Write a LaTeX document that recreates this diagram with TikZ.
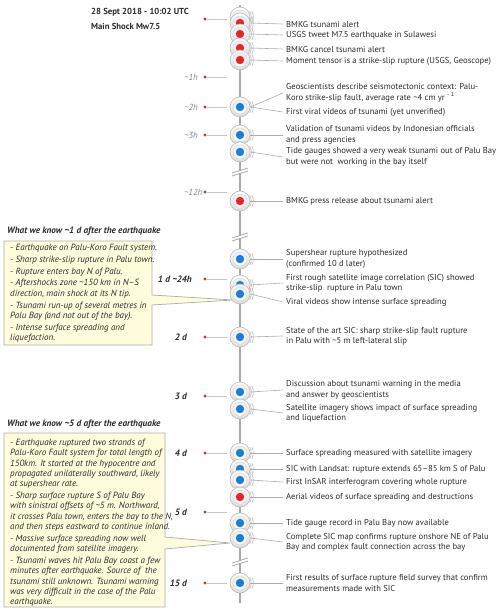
\documentclass[tikz,border=0pt]{standalone}
\usepackage{fontspec}
\setmainfont{PT Sans}
\usetikzlibrary{calc}
\definecolor{boxfill}{HTML}{FFFCDC}
\definecolor{evred}{HTML}{E8232A}
\definecolor{evblue}{HTML}{1C7ED6}
\definecolor{txt}{HTML}{2B2B2B}
\definecolor{tlc}{HTML}{A8A8A8}
\newcommand\tld{\textasciitilde}
\newcommand\evt[3]{%
  \node[evc=#2] (#1) at (240,#3) {};
  \draw[wave] (#1.center) ++(-32:11.3) arc[start angle=-32, end angle=32, radius=11.3];
  \draw[wave] (#1.center) ++(-26:13.3) arc[start angle=-26, end angle=26, radius=13.3];
}
\newcommand\brk[2]{%
  \coordinate (#1a) at (232,#2+3);
  \coordinate (#1b) at (248,#2-2);
  \coordinate (#1c) at (248,#2+1);
  \coordinate (#1d) at (232,#2+6);
  \fill[white] (#1a) -- (#1b) -- (#1c) -- (#1d) -- cycle;
  \draw[brkline] (#1a) -- (#1b);
  \draw[brkline] (#1d) -- (#1c);
}
\newcommand\tmark[2]{% name, y
  \node[tdot] (#1) at (205,#2) {};
  \coordinate (#1e) at (227,#2);
  \draw[tline] (#1) -- (#1e);
}
\begin{document}
\begin{tikzpicture}[x=1pt,y=-1pt,
  font=\fontsize{8.6}{10.3}\selectfont,
  evc/.style={circle, minimum size=20pt, inner sep=0pt, draw=gray!55, line width=0.6pt,
    top color=white, bottom color=gray!28,
    path picture={
      \shade[top color=gray!14, bottom color=white, draw=gray!35, line width=0.4pt]
        (path picture bounding box.center) circle (7pt);
      \fill[#1] (path picture bounding box.center) circle (4.2pt);
    }},
  wave/.style={draw=gray!55, line width=0.6pt},
  brkline/.style={draw=tlc, line width=0.8pt},
  tdot/.style={circle, fill=evred, inner sep=0pt, minimum size=3.4pt},
  tline/.style={draw=gray!45, line width=0.6pt},
  conn/.style={draw=gray!65, line width=0.6pt},
  etxt/.style={anchor=west, inner xsep=3pt, inner ysep=0pt, align=left, text=txt},
  hlab/.style={anchor=east, inner sep=0pt, font=\fontsize{8.8}{10.3}\selectfont\itshape, text=gray},
  dlab/.style={anchor=east, inner sep=0pt, font=\fontsize{9.2}{10.3}\selectfont\bfseries\itshape, text=txt},
  hdr/.style={anchor=west, inner sep=0pt, font=\fontsize{9.2}{10.3}\selectfont\bfseries\itshape, text=txt},
  boxtxt/.style={anchor=north west, inner sep=0pt, align=left, text=txt,
    font=\fontsize{9.0}{10.3}\selectfont\itshape},
  ttl/.style={anchor=west, inner sep=0pt, font=\fontsize{8.7}{10}\selectfont\bfseries, text=txt},
  calloutbox/.style={fill=boxfill, draw=gray!65, line width=0.7pt}
]
\useasboundingbox (0,0) rectangle (500,612);

% title
\node[ttl] (title1) at (91,12) {28 Sept 2018 - 10:02 UTC};
\node[ttl] (title2) at (91,26) {Main Shock Mw7.5};

% timeline
\coordinate (tltop) at (240,5);
\coordinate (tlbot) at (240,603);
\draw[tlc, line width=1.6pt] (tltop) -- (tlbot);
\brk{b1}{170}
\brk{b2}{235}
\brk{b3}{560}

% time marks
\tmark{m0}{19}
\tmark{m1}{77}
\node[hlab] (l1) at (198,77) {\tld 1h};
\tmark{m2}{107}
\node[hlab] (l2) at (198,107) {\tld 2h};
\tmark{m3}{135}
\node[hlab] (l3) at (198,135) {\tld 3h};
\tmark{m4}{192}
\node[hlab] (l4) at (202.5,192) {\tld 12h};
\tmark{m5}{279}
\node[dlab] (l5) at (192,279) {1 d \tld24h};
\tmark{m6}{337}
\node[dlab] (l6) at (187,337) {2 d};
\tmark{m7}{396}
\node[dlab] (l7) at (187,396) {3 d};
\tmark{m8}{453}
\node[dlab] (l8) at (187,453) {4 d};
\tmark{m9}{512}
\node[dlab] (l9) at (187,512) {5 d};
\tmark{m10}{583}
\node[dlab] (l10) at (187,583) {15 d};

% callout boxes
\coordinate (c1a) at (4,241);
\coordinate (c1b) at (152,241);
\coordinate (c1c) at (152,295);
\coordinate (c1t) at (233,300);
\coordinate (c1d) at (152,305);
\coordinate (c1e) at (152,345);
\coordinate (c1f) at (4,345);
\draw[calloutbox] (c1a) -- (c1b) -- (c1c) -- (c1t) -- (c1d) -- (c1e) -- (c1f) -- cycle;
\coordinate (c2a) at (4,433);
\coordinate (c2b) at (165,433);
\coordinate (c2c) at (165,537);
\coordinate (c2t) at (230,543);
\coordinate (c2d) at (165,549);
\coordinate (c2e) at (165,607);
\coordinate (c2f) at (4,607);
\draw[calloutbox] (c2a) -- (c2b) -- (c2c) -- (c2t) -- (c2d) -- (c2e) -- (c2f) -- cycle;

\node[hdr] (h1) at (7,231) {What we know \tld1 d after the earthquake};
\node[hdr] (h2) at (7,424) {What we know \tld5 d after the earthquake};

\node[boxtxt] (bx1) at (10,244) {%
- Earthquake on Palu-Koro Fault system.\\[1.5pt]
- Sharp strike-slip rupture in Palu town.\\[1.5pt]
- Rupture enters bay N of Palu.\\[1.5pt]
- Aftershocks zone \tld150 km in N--S\\
direction, main shock at its N tip.\\[1.5pt]
- Tsunami run-up of several metres in\\
Palu Bay (and not out of the bay).\\[1.5pt]
- Intense surface spreading and\\
liquefaction.};

\node[boxtxt] (bx2) at (10,439) {%
- Earthquake ruptured two strands of\\
Palu-Koro Fault system for total length of\\
150km. It started at the hypocentre and\\
propagated unilaterally southward, likely\\
at supershear rate.\\[1.5pt]
- Sharp surface rupture S of Palu Bay\\
with sinistral offsets of \tld5 m. Northward,\\
it crosses Palu town, enters the bay to the N,\\
and then steps eastward to continue inland.\\[1.5pt]
- Massive surface spreading now well\\
documented from satellite imagery.\\[1.5pt]
- Tsunami waves hit Palu Bay coast a few\\
minutes after earthquake. Source of \ the\\
tsunami still unknown. Tsunami warning\\
was very difficult in the case of the Palu\\
earthquake.};

% events
\evt{A}{evred}{17}
\evt{B}{evred}{23}
\evt{C}{evred}{34}
\evt{D}{evred}{48}
\evt{E}{evred}{60}
\evt{F}{evblue}{107}
\evt{G}{evblue}{135}
\evt{H}{evblue}{152}
\evt{I}{evred}{201}
\evt{J}{evblue}{259}
\evt{K}{evblue}{285}
\evt{L}{evblue}{294}
\evt{M}{evblue}{337}
\evt{N}{evblue}{392}
\evt{O}{evblue}{409}
\evt{P}{evblue}{453}
\evt{Q}{evblue}{469}
\evt{R}{evblue}{480}
\evt{S}{evred}{497}
\evt{T}{evblue}{523}
\evt{U}{evblue}{538}
\evt{V}{evblue}{583}

% event texts
\node[etxt] (tB) at (283,24) {BMKG tsunami alert};
\node[etxt] (tC) at (283,35) {USGS tweet M7.5 earthquake in Sulawesi};
\node[etxt] (tD) at (283,49) {BMKG cancel tsunami alert};
\node[etxt] (tE) at (283,61) {Moment tensor is a strike-slip rupture (USGS, Geoscope)};
\node[etxt] (tF1) at (283,93) {Geoscientists describe seismotectonic context: Palu-\\Koro strike-slip fault, average rate \tld4 cm yr \textsuperscript{- 1}};
\node[etxt] (tF2) at (283,112) {First viral videos of tsunami (yet unverified)};
\node[etxt] (tG) at (283,135) {Validation of tsunami videos by Indonesian officials\\and press agencies};
\node[etxt] (tH) at (283,157) {Tide gauges showed a very weak tsunami out of Palu Bay\\but were not \ working in the bay itself};
\node[etxt] (tI) at (283,201) {BMKG press release about tsunami alert};
\node[etxt] (tJ) at (283,259) {Supershear rupture hypothesized\\(confirmed 10 d later)};
\node[etxt] (tK) at (283,283) {First rough satellite image correlation (SIC) showed\\strike-slip \ rupture in Palu town};
\node[etxt] (tL) at (283,302) {Viral videos show intense surface spreading};
\node[etxt] (tM) at (283,336) {State of the art SIC: sharp strike-slip fault rupture\\in Palu with \tld5 m left-lateral slip};
\node[etxt] (tN) at (283,390) {Discussion about tsunami warning in the media\\and answer by geoscientists};
\node[etxt] (tO) at (283,413) {Satellite imagery shows impact of surface spreading\\and liquefaction};
\node[etxt] (tP) at (283,453) {Surface spreading measured with satellite imagery};
\node[etxt] (tQ) at (283,469) {SIC with Landsat: rupture extends 65--85 km S of Palu};
\node[etxt] (tR) at (283,482) {First InSAR interferogram covering whole rupture};
\node[etxt] (tS) at (283,497) {Aerial videos of surface spreading and destructions};
\node[etxt] (tT) at (283,523) {Tide gauge record in Palu Bay now available};
\node[etxt] (tU) at (283,542) {Complete SIC map confirms rupture onshore NE of Palu\\Bay and complex fault connection across the bay};
\node[etxt] (tV) at (283,583) {First results of surface rupture field survey that confirm\\measurements made with SIC};

% connectors
\draw[conn] (B.east) -- (tB.west);
\draw[conn] (C.east) -- (tC.west);
\draw[conn] (D.east) -- (tD.west);
\draw[conn] (E.east) -- (tE.west);
\draw[conn] (F.east) -- (tF1.west);
\draw[conn] (F.east) -- (tF2.west);
\draw[conn] (G.east) -- (tG.west);
\draw[conn] (H.east) -- (tH.west);
\draw[conn] (I.east) -- (tI.west);
\draw[conn] (J.east) -- (tJ.west);
\draw[conn] (K.east) -- (tK.west);
\draw[conn] (L.east) -- (tL.west);
\draw[conn] (M.east) -- (tM.west);
\draw[conn] (N.east) -- (tN.west);
\draw[conn] (O.east) -- (tO.west);
\draw[conn] (P.east) -- (tP.west);
\draw[conn] (Q.east) -- (tQ.west);
\draw[conn] (R.east) -- (tR.west);
\draw[conn] (S.east) -- (tS.west);
\draw[conn] (T.east) -- (tT.west);
\draw[conn] (U.east) -- (tU.west);
\draw[conn] (V.east) -- (tV.west);
\end{tikzpicture}
\end{document}
